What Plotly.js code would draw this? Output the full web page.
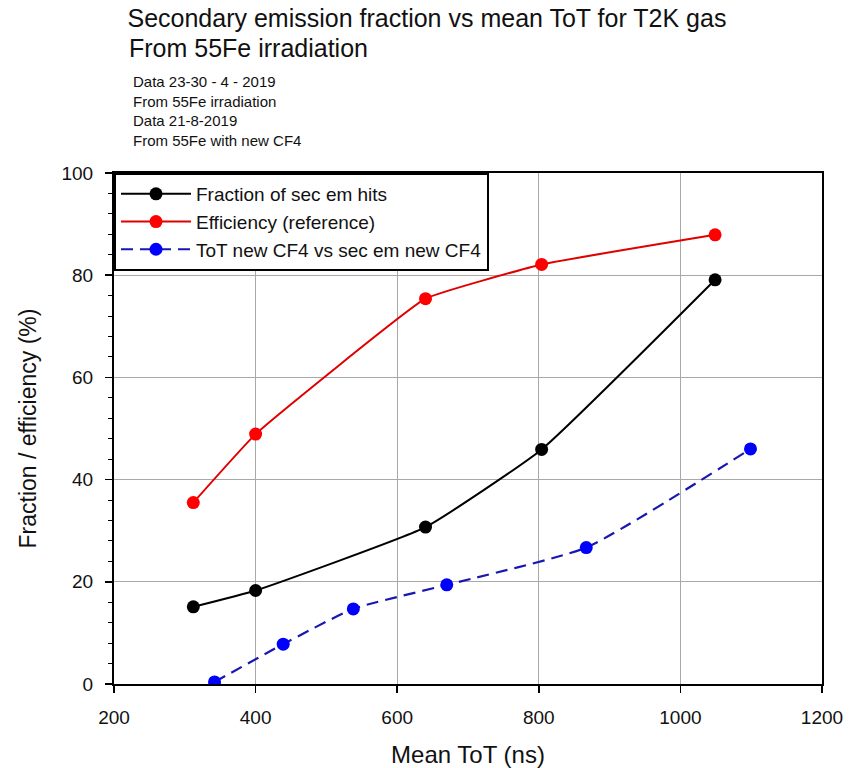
<!DOCTYPE html>
<html>
<head>
<meta charset="utf-8">
<script src="https://cdn.plot.ly/plotly-3.0.1.min.js"></script>
<style>html,body{margin:0;padding:0;background:#fff;}#chart{width:854px;height:768px;}</style>
</head>
<body>
<div id="chart"></div>
<script>
// Fraction of secondary emission hits
const fracX = [312, 400, 640, 804, 1049];
const fracY = [15.1, 18.3, 30.7, 45.9, 79.1];
// Efficiency (reference)
const effX = [312, 400, 640, 804, 1049];
const effY = [35.5, 48.9, 75.4, 82.1, 87.9];
// ToT new CF4 vs sec em new CF4
const newX = [342, 439, 538, 670, 867, 1099];
const newY = [0.4, 7.8, 14.7, 19.4, 26.7, 46.0];

const seriesNames = ["Fraction of sec em hits", "Efficiency (reference)", "ToT new CF4 vs sec em new CF4"];
const titleLines = ["Secondary emission fraction vs mean ToT for T2K gas", "From 55Fe irradiation"];
const noteLines = ["Data 23-30 - 4 - 2019", "From 55Fe irradiation", "Data 21-8-2019", "From 55Fe with new CF4"];
const xTitle = "Mean ToT (ns)";
const yTitle = "Fraction / efficiency (%)";

const FONT = "Liberation Sans, Arial, sans-serif";
const W = 854, H = 768;
const M = {l: 113.5, r: 32.3, t: 173.3, b: 83.7};
const plotH = H - M.t - M.b;
const plotW = W - M.l - M.r;
const py = (pix) => (H - M.b - pix) / plotH;   // pixel row -> paper y
const px = (pix) => (pix - M.l) / plotW;       // pixel col -> paper x

const traces = [
  {x: fracX, y: fracY, name: seriesNames[0], type: "scatter", mode: "lines+markers",
   line: {color: "#000000", width: 2, shape: "spline", smoothing: 0.4},
   marker: {color: "#000000", size: 13}},
  {x: effX, y: effY, name: seriesNames[1], type: "scatter", mode: "lines+markers",
   line: {color: "#e00000", width: 2, shape: "spline", smoothing: 0.3},
   marker: {color: "#ff0000", size: 13}},
  {x: newX, y: newY, name: seriesNames[2], type: "scatter", mode: "lines+markers",
   line: {color: "#1818b0", width: 2.2, dash: "12px,7px", shape: "spline", smoothing: 0.5},
   marker: {color: "#0000ff", size: 13}}
];

const noteRows = [82, 101.5, 121, 140.5];
const annotations = noteLines.map((t, i) => ({
  text: t, xref: "paper", yref: "paper", x: px(131), y: py(noteRows[i]),
  xanchor: "left", yanchor: "middle", showarrow: false,
  font: {family: FONT, size: 15, color: "#111"}
}));
annotations.push({
  text: titleLines[1], xref: "paper", yref: "paper", x: px(127), y: py(48),
  xanchor: "left", yanchor: "middle", showarrow: false,
  font: {family: FONT, size: 25, color: "#111"}
});

const layout = {
  width: W, height: H,
  margin: M,
  paper_bgcolor: "#ffffff", plot_bgcolor: "#ffffff",
  font: {family: FONT, color: "#111"},
  title: {text: titleLines[0], xref: "paper", x: px(127), xanchor: "left",
          yref: "container", y: 1 - 18 / H, yanchor: "middle", pad: {t: 0, b: 0, l: 0, r: 0},
          font: {family: FONT, size: 25, color: "#111"}},
  showlegend: true,
  legend: {x: 0, y: 1, xanchor: "left", yanchor: "top", bgcolor: "#ffffff",
           bordercolor: "#000000", borderwidth: 2, font: {family: FONT, size: 19, color: "#111"},
           tracegroupgap: 0, itemwidth: 70},
  annotations: annotations,
  xaxis: {
    range: [200, 1200], tickvals: [200, 400, 600, 800, 1000, 1200],
    ticks: "outside", ticklen: 7, tickwidth: 1.5, tickcolor: "#000",
    showline: true, linecolor: "#000", linewidth: 2, mirror: true,
    showgrid: true, gridcolor: "#a8a8a8", gridwidth: 1, zeroline: false,
    tickfont: {family: FONT, size: 19, color: "#111"}, ticklabelstandoff: 8,
    title: {text: xTitle, standoff: 21, font: {family: FONT, size: 24, color: "#111"}},
    automargin: false
  },
  yaxis: {
    range: [0, 100], tickvals: [0, 20, 40, 60, 80, 100],
    ticks: "outside", ticklen: 7, tickwidth: 1.5, tickcolor: "#000",
    minor: {dtick: 4, ticks: "outside", ticklen: 4, tickcolor: "#000", tickwidth: 1, showgrid: false},
    showline: true, linecolor: "#000", linewidth: 2, mirror: true,
    showgrid: true, gridcolor: "#a8a8a8", gridwidth: 1, zeroline: false,
    tickfont: {family: FONT, size: 19, color: "#111"}, ticklabelstandoff: 8,
    title: {text: yTitle, standoff: 18, font: {family: FONT, size: 23, color: "#111"}},
    automargin: false
  }
};

Plotly.newPlot("chart", traces, layout, {displayModeBar: false, staticPlot: true});
</script>
</body>
</html>
